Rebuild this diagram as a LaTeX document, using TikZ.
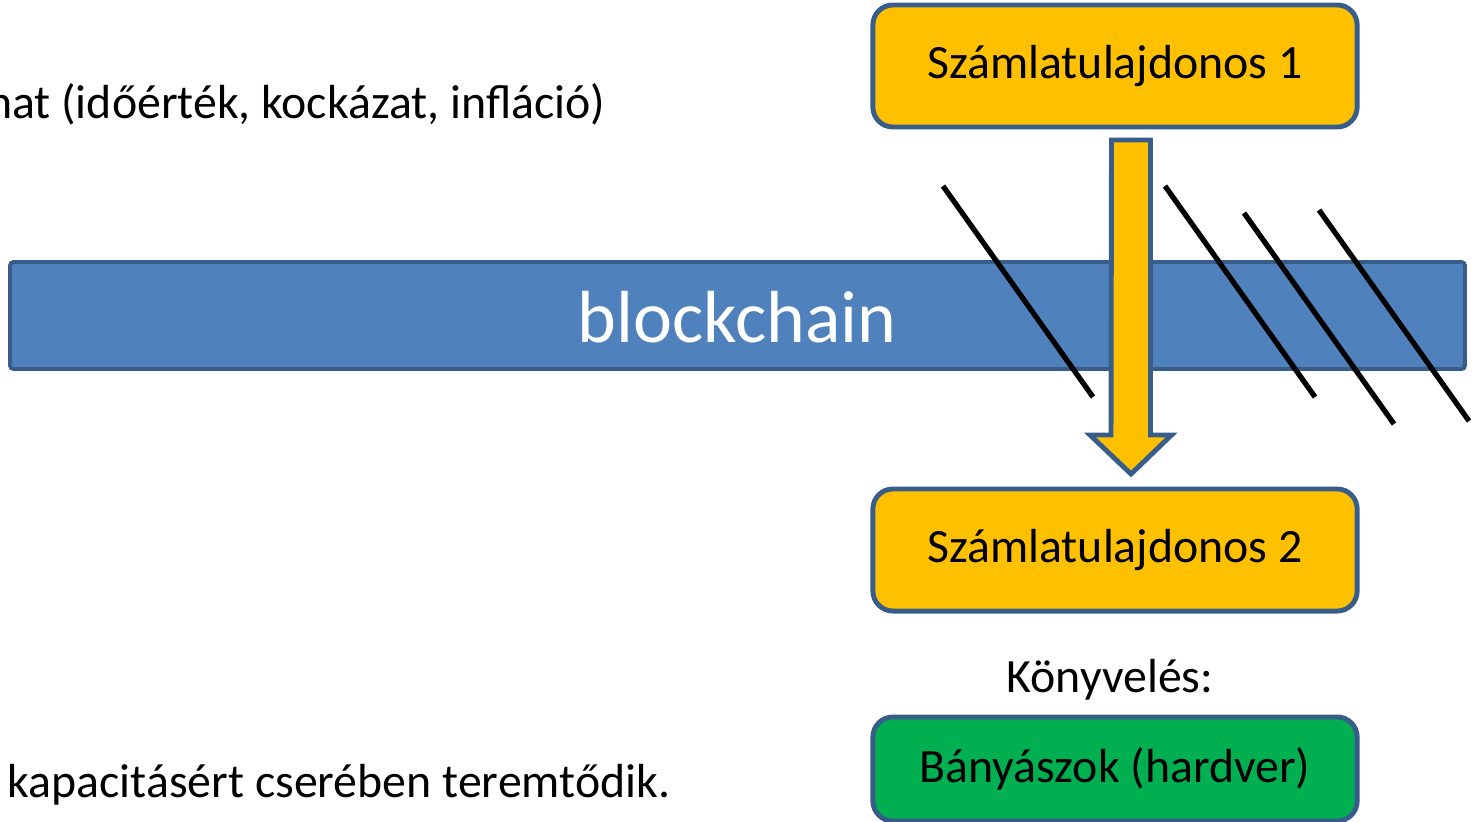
\documentclass[tikz,border=0pt]{standalone}
\usepackage{fontspec}
\setmainfont{Carlito}
\usetikzlibrary{positioning}

\definecolor{sarga}{HTML}{FFC000}
\definecolor{kek}{HTML}{4F81BD}
\definecolor{keret}{HTML}{385D8A}
\definecolor{zold}{HTML}{00B050}

\tikzset{
  doboz/.style={draw=keret, line width=1.4pt, rounded corners=0.2cm,
    minimum width=4.84cm, minimum height=1.22cm, font=\fontsize{13.6}{16}\selectfont},
  athuzas/.style={line width=1.5pt, black},
  nyil/.style={draw=keret, fill=sarga, line width=1.4pt, miter limit=10}
}

\begin{document}
\begin{tikzpicture}[x=0.01cm, y=-0.01cm]
  \useasboundingbox (0,0) rectangle (1473,821);
  \clip (0,0) rectangle (1473,821);

  % left hand text
  \node[anchor=base east, inner sep=0pt, font=\fontsize{13.6}{16}\selectfont] (hatas) at (606,118)
    {hat (időérték, kockázat, infláció)};
  \node[anchor=base west, inner sep=0pt, font=\fontsize{13.6}{16}\selectfont] (teremt) at (7,797)
    {kapacitásért cserében teremtődik.};

  % the chain
  \draw[fill=kek, draw=keret, line width=1.1pt, rounded corners=1pt] (10,262) rectangle (1465,369);
  \node[anchor=base, text=white, inner sep=0pt, font=\fontsize{21}{24}\selectfont] (lanc) at (737,342) {blockchain};

  \foreach \x/\y in {943/186, 1165/186, 1244/213, 1319/210}
    \draw[athuzas] (\x,\y) -- ++(150,211);

  % accounts
  \node[doboz, fill=sarga] (szamla1) at (1115,66) {Számlatulajdonos 1};
  \node[doboz, fill=sarga] (szamla2) at (1115,550) {Számlatulajdonos 2};

  \coordinate (nyil1) at (1131,140);
  \coordinate (nyil2) at (1131,474);
  \draw[nyil] (nyil1) ++(-19.5,0) -- ++(39,0) -- ++(0,295) -- ++(21,0) -- (nyil2)
    -- ++(-41,-39) -- ++(21,0) -- cycle;

  \node[font=\fontsize{13.6}{16}\selectfont] (konyv) at (1110,680) {Könyvelés:};
  \node[doboz, fill=zold, minimum height=1.04cm] (banyasz) at (1115,769) {Bányászok (hardver)};
\end{tikzpicture}
\end{document}
